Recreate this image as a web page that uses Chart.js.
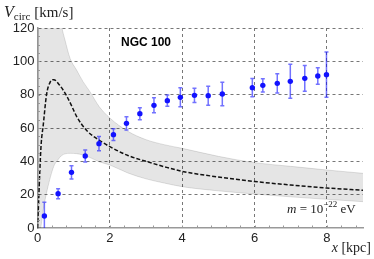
<!DOCTYPE html>
<html>
<head>
<meta charset="utf-8">
<script src="https://cdn.jsdelivr.net/npm/chart.js@4"></script>
<style>
  body { margin: 0; background: #fff; }
  canvas { display: block; }
</style>
</head>
<body>
<canvas id="chart" width="374" height="259"></canvas>
<script>
// datos observados (kpc, km/s)
const obsX = [0.19, 0.57, 0.94, 1.32, 1.70, 2.10, 2.46, 2.83, 3.22, 3.59, 3.95, 4.34, 4.72, 5.11, 5.94, 6.23, 6.63, 6.99, 7.39, 7.75, 7.99];
const obsV = [7.2, 20.6, 33.4, 43.2, 50.6, 56, 62.8, 68.6, 73.6, 76.4, 78.4, 79.6, 79.4, 80.4, 84.2, 85.6, 86.8, 88, 89.8, 91.2, 92];
const obsErr = [8.2, 3, 4, 3.6, 4.3, 3.5, 4, 3.6, 4.5, 3.4, 5.7, 4.3, 5.7, 7, 5.5, 4, 5.8, 10.2, 7.7, 4.9, 13.6];

// curva del modelo (linea discontinua)
const curveX = [0, 0.03, 0.06, 0.1, 0.16, 0.25, 0.35, 0.45, 0.6, 0.8, 0.95, 1.08, 1.36, 1.72, 2, 2.5, 3, 3.5, 4, 5, 6, 7, 8, 9];
const curveV = [0, 15, 32, 50, 62, 80, 87.5, 89, 86, 79.5, 73, 67, 58.5, 52.5, 48.8, 43.5, 40, 36.8, 34, 30.6, 27.9, 25.8, 24, 22.6];

// banda gris
const bandX = [0, 0.02, 0.08, 0.15, 0.27, 0.45, 0.55, 0.67, 0.76, 0.9, 1.08, 1.26, 1.45, 1.7, 2, 2.5, 3, 3.5, 4, 5, 6, 7, 8, 9];
const bandUpper = [0, 150, 150, 150, 150, 150, 138, 120.8, 112.8, 101.8, 94.8, 87.8, 81.8, 73, 66, 58, 53, 50, 47.8, 43, 39.2, 37, 34.8, 32.8];
const bandLower = [0, 0, 0, 10, 23, 37, 40.5, 43.5, 44.5, 44.8, 44.6, 43.8, 42.3, 39.8, 37.8, 33, 29.5, 27, 24.8, 22.3, 20.4, 18.7, 17.2, 15.8];

// ticks
const xTicks = [0, 2, 4, 6, 8];
const yTicks = [0, 20, 40, 60, 80, 100, 120];

const toPts = (xs, ys) => xs.map((x, i) => ({ x: x, y: ys[i] }));

// barras de error
const errorBars = {
  id: "errorBars",
  beforeDatasetDraw(chart, args) {
    if (args.index !== 0) return;
    const ctx = chart.ctx;
    const sx = chart.scales.x;
    const sy = chart.scales.y;
    const a = chart.chartArea;
    ctx.save();
    ctx.beginPath();
    ctx.rect(a.left, a.top, a.right - a.left, a.bottom - a.top);
    ctx.clip();
    ctx.strokeStyle = "rgba(20,20,255,0.6)";
    ctx.lineWidth = 1.5;
    obsX.forEach((x, i) => {
      const px = sx.getPixelForValue(x);
      const top = sy.getPixelForValue(obsV[i] + obsErr[i]);
      const bot = sy.getPixelForValue(obsV[i] - obsErr[i]);
      ctx.beginPath();
      ctx.moveTo(px, top);
      ctx.lineTo(px, bot);
      ctx.moveTo(px - 2, top);
      ctx.lineTo(px + 2, top);
      ctx.moveTo(px - 2, bot);
      ctx.lineTo(px + 2, bot);
      ctx.stroke();
    });
    ctx.restore();
  },
};

// marcas menores y textos
const extras = {
  id: "extras",
  afterDraw(chart) {
    const ctx = chart.ctx;
    const sx = chart.scales.x;
    const sy = chart.scales.y;
    const a = chart.chartArea;
    ctx.save();
    ctx.strokeStyle = "#999";
    ctx.lineWidth = 1;
    for (let v = 0.4; v < 9; v += 0.4) {
      const px = Math.round(sx.getPixelForValue(v)) + 0.5;
      ctx.beginPath();
      ctx.moveTo(px, a.bottom);
      ctx.lineTo(px, a.bottom - 2.5);
      ctx.stroke();
    }
    for (let v = 5; v < 120; v += 5) {
      const py = Math.round(sy.getPixelForValue(v)) + 0.5;
      ctx.beginPath();
      ctx.moveTo(a.left, py);
      ctx.lineTo(a.left + 2.5, py);
      ctx.stroke();
    }

    ctx.fillStyle = "#222";
    ctx.textBaseline = "alphabetic";
    ctx.textAlign = "left";
    // V_circ [km/s]
    let x = 4;
    ctx.font = "italic 16px 'Liberation Serif'";
    ctx.fillText("V", x, 17);
    x += ctx.measureText("V").width;
    ctx.font = "11px 'Liberation Serif'";
    ctx.fillText("circ", x, 20);
    x += ctx.measureText("circ").width + 4;
    ctx.font = "15px 'Liberation Serif'";
    ctx.fillText("[km/s]", x, 17);

    // x [kpc]
    ctx.font = "14px 'Liberation Serif'";
    const w2 = ctx.measureText(" [kpc]").width;
    ctx.font = "italic 14px 'Liberation Serif'";
    const w1 = ctx.measureText("x").width;
    x = 371 - w1 - w2;
    ctx.fillText("x", x, 252);
    ctx.font = "14px 'Liberation Serif'";
    ctx.fillText(" [kpc]", x + w1, 252);

    // NGC 100
    ctx.font = "bold 12px 'Liberation Sans'";
    ctx.textAlign = "center";
    ctx.textBaseline = "middle";
    ctx.fillStyle = "#000";
    ctx.fillText("NGC 100", 146, 43);

    // m = 10^-22 eV
    ctx.textAlign = "left";
    ctx.textBaseline = "alphabetic";
    ctx.fillStyle = "#222";
    x = 287;
    ctx.font = "italic 13px 'Liberation Serif'";
    ctx.fillText("m", x, 213);
    x += ctx.measureText("m").width;
    ctx.font = "13px 'Liberation Serif'";
    ctx.fillText(" = 10", x, 213);
    x += ctx.measureText(" = 10").width;
    ctx.font = "9px 'Liberation Serif'";
    ctx.fillText("\u221222", x, 207);
    x += ctx.measureText("\u221222").width;
    ctx.font = "13px 'Liberation Serif'";
    ctx.fillText(" eV", x, 213);
    ctx.restore();
  },
};

const gridColor = (c) => (c.tick && c.tick.value === 0 ? "rgba(0,0,0,0)" : "#777");

new Chart(document.getElementById("chart"), {
  type: "scatter",
  data: {
    datasets: [
      {
        data: toPts(obsX, obsV),
        backgroundColor: "#1212ff",
        borderColor: "#1212ff",
        pointRadius: 2.7,
        borderWidth: 0,
        showLine: false,
      },
      {
        data: toPts(curveX, curveV),
        showLine: true,
        borderColor: "#111",
        borderWidth: 1.5,
        borderDash: [4, 2],
        pointRadius: 0,
        cubicInterpolationMode: "monotone",
        fill: false,
      },
      {
        data: toPts(bandX, bandUpper),
        showLine: true,
        borderColor: "rgba(0,0,0,0.12)",
        borderWidth: 1,
        pointRadius: 0,
        cubicInterpolationMode: "monotone",
        fill: false,
      },
      {
        data: toPts(bandX, bandLower),
        showLine: true,
        borderColor: "rgba(0,0,0,0.12)",
        borderWidth: 1,
        pointRadius: 0,
        cubicInterpolationMode: "monotone",
        fill: "-1",
        backgroundColor: "rgba(0,0,0,0.1)",
      },
    ],
  },
  options: {
    responsive: false,
    animation: false,
    devicePixelRatio: 1,
    layout: { padding: { left: 0, top: 28, right: 11, bottom: 0 } },
    plugins: {
      legend: { display: false },
      tooltip: { enabled: false },
    },
    scales: {
      x: {
        type: "linear",
        min: 0,
        max: 9,
        afterBuildTicks: (s) => {
          s.ticks = xTicks.map((v) => ({ value: v }));
        },
        afterFit: (s) => {
          s.height = 31;
        },
        grid: { color: gridColor, lineWidth: 1, drawTicks: false },
        border: { display: true, color: "#999", width: 1.5, dash: [3, 3] },
        ticks: {
          padding: 3,
          color: "#222",
          font: { family: "'Liberation Sans'", size: 13 },
          maxRotation: 0,
        },
      },
      y: {
        type: "linear",
        min: 0,
        max: 120,
        afterBuildTicks: (s) => {
          s.ticks = yTicks.map((v) => ({ value: v }));
        },
        afterFit: (s) => {
          s.width = 37.5;
        },
        grid: { color: gridColor, lineWidth: 1, drawTicks: false },
        border: { display: true, color: "#999", width: 1.5, dash: [3, 3] },
        ticks: {
          padding: 3,
          color: "#222",
          font: { family: "'Liberation Sans'", size: 13 },
        },
      },
    },
  },
  plugins: [errorBars, extras],
});
</script>
</body>
</html>
